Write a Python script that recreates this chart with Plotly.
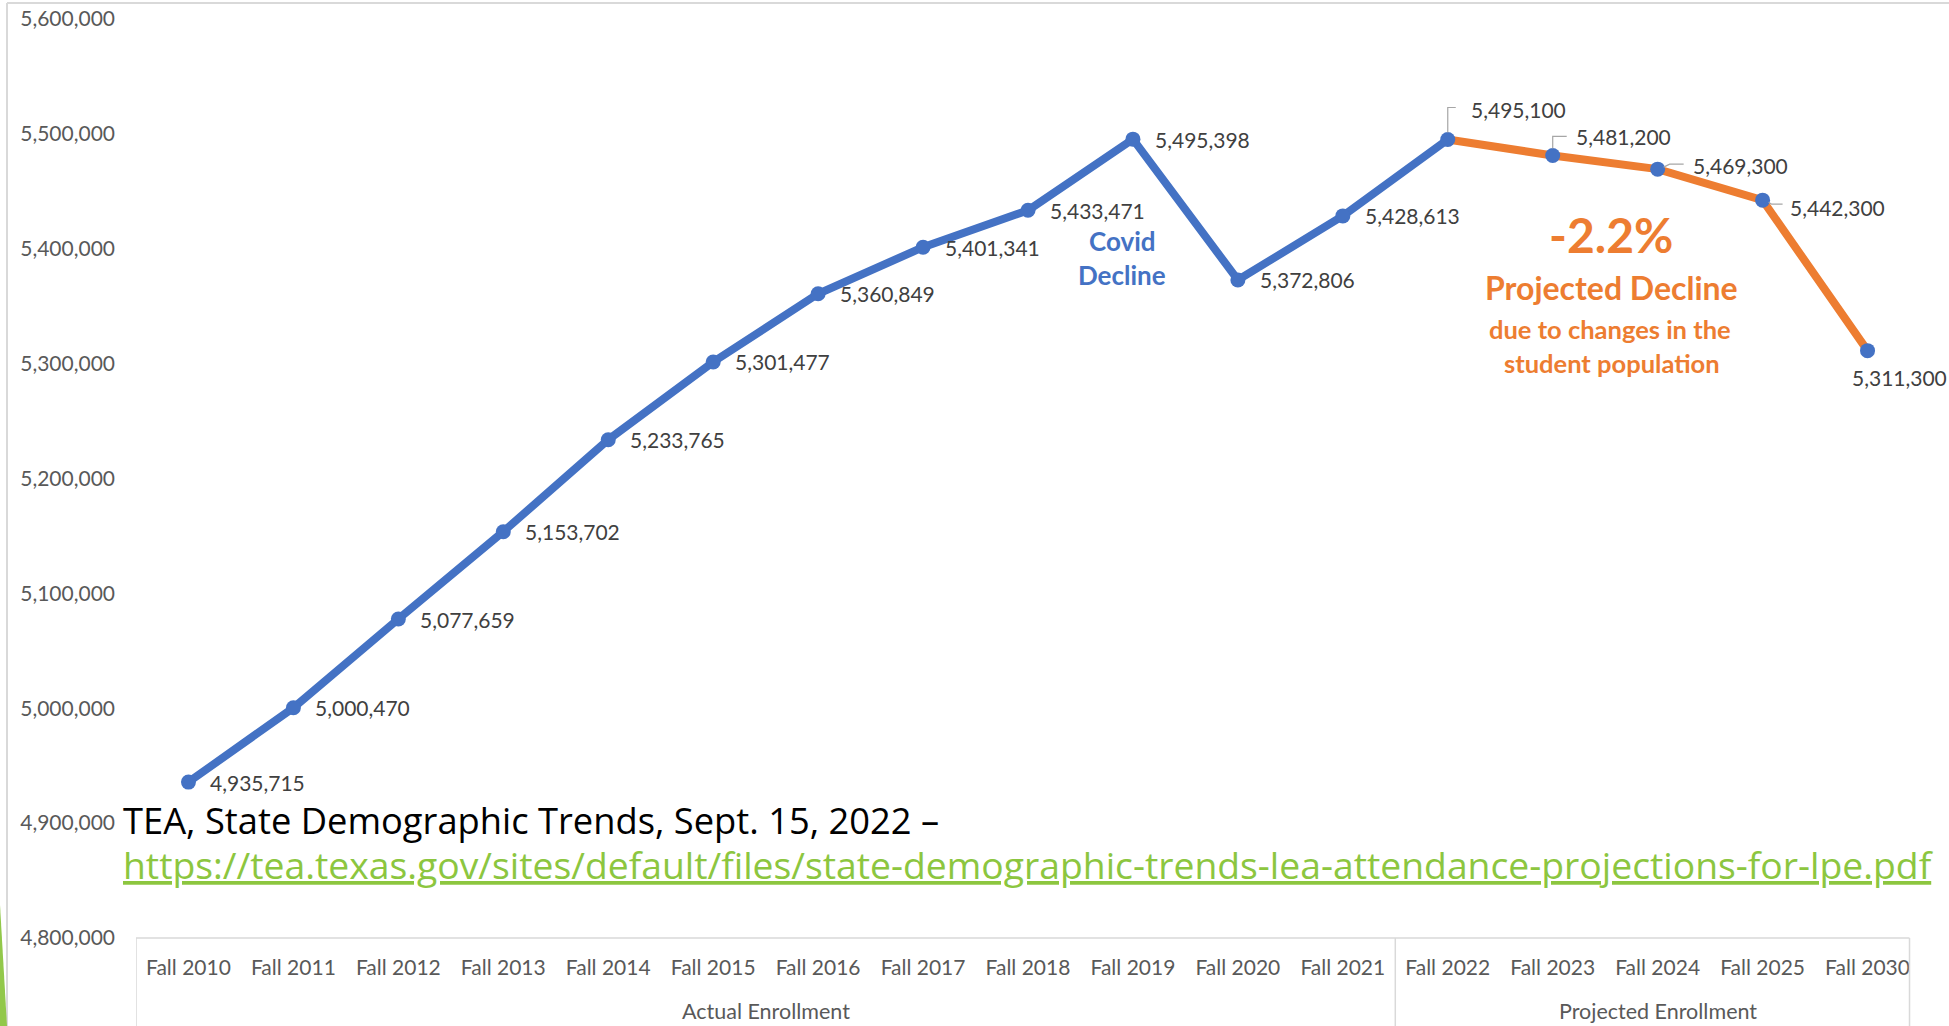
import plotly.graph_objects as go

# ---- data -------------------------------------------------------------
categories = [
    "Fall 2010", "Fall 2011", "Fall 2012", "Fall 2013", "Fall 2014", "Fall 2015",
    "Fall 2016", "Fall 2017", "Fall 2018", "Fall 2019", "Fall 2020", "Fall 2021",
    "Fall 2022", "Fall 2023", "Fall 2024", "Fall 2025", "Fall 2030",
]
actual_enrollment = [
    4935715, 5000470, 5077659, 5153702, 5233765, 5301477,
    5360849, 5401341, 5433471, 5495398, 5372806, 5428613,
]
projected_enrollment = [5495100, 5481200, 5469300, 5442300, 5311300]
group_labels = ["Actual Enrollment", "Projected Enrollment"]
y_tick_values = [4800000, 4900000, 5000000, 5100000, 5200000, 5300000, 5400000, 5500000, 5600000]

# ---- styling ----------------------------------------------------------
BLUE = "#4472C4"
ORANGE = "#ED7D31"
LABEL = "#404040"
AXIS_TEXT = "#595959"
FRAME = "#D9D9D9"
LINK = "#8CC63F"
LEADER = "#A6A6A6"
FONT = "Lato"
SOURCE_FONT = "Open Sans"

W, H = 1949, 1026
ML, MR, MT, MB = 136, 29, 19, 88

# projection label placement: (x offset to label's left edge, y offset to label centre, px, up = +)
proj_label_offsets = [(23, 30), (23, 19), (35, 4), (27, -7), (-16, -27)]
# elbow leader lines drawn in pixels relative to each point (None = no leader)
proj_leaders = ["M0,7 V32 H8", "M0,7 V19 H14", "M6,2 L12,5 H26", "M6,-2 L9,-4 H20", None]

n_actual = len(actual_enrollment)
values = actual_enrollment + projected_enrollment
xs = list(range(len(categories)))

fig = go.Figure()
fig.add_trace(go.Scatter(
    x=xs[:n_actual + 1], y=values[:n_actual + 1], mode="lines",
    line=dict(color=BLUE, width=8), hoverinfo="skip",
))
fig.add_trace(go.Scatter(
    x=xs[n_actual:], y=values[n_actual:], mode="lines",
    line=dict(color=ORANGE, width=8), hoverinfo="skip",
))
fig.add_trace(go.Scatter(
    x=xs, y=values, mode="markers",
    marker=dict(color=BLUE, size=15, line=dict(width=0)),
    customdata=categories, hovertemplate="%{customdata}: %{y:,}<extra></extra>",
))

annotations = []
shapes = []

# value labels for the actual enrollment points
for i, v in enumerate(actual_enrollment):
    annotations.append(dict(
        x=xs[i], y=v, text=f"{v:,}", showarrow=False, xanchor="left", yanchor="middle",
        xshift=20, font=dict(family=FONT, size=21, color=LABEL),
    ))

# value labels (with leader lines) for the projected points
for k, v in enumerate(projected_enrollment):
    i = n_actual + k
    dx, dy = proj_label_offsets[k]
    annotations.append(dict(
        x=xs[i], y=v, text=f"{v:,}", showarrow=False, xanchor="left", yanchor="middle",
        xshift=dx - 2, yshift=dy, font=dict(family=FONT, size=21, color=LABEL),
    ))
    if proj_leaders[k]:
        shapes.append(dict(
            type="path", xref="x", yref="y", xsizemode="pixel", ysizemode="pixel",
            xanchor=xs[i], yanchor=v, path=proj_leaders[k],
            line=dict(color=LEADER, width=1.2), layer="above",
        ))


def px_x(px):
    return (px - ML) / (W - ML - MR)


def px_y(py):
    return (H - MB - py) / (H - MT - MB)


def callout(text, cx, cy, size, color):
    return dict(xref="paper", yref="paper", x=px_x(cx), y=px_y(cy),
                xanchor="center", yanchor="middle", showarrow=False,
                text=text, font=dict(family=FONT, size=size, color=color))


annotations += [
    callout("<b>Covid</b>", 1122, 241, 26, BLUE),
    callout("<b>Decline</b>", 1122, 275, 26, BLUE),
    callout("<b>-2.2%</b>", 1611, 234, 48, ORANGE),
    callout("<b>Projected Decline</b>", 1611, 287, 32, ORANGE),
    callout("<b>due to changes in the</b>", 1610, 329, 25.5, ORANGE),
    callout("<b>student population</b>", 1612, 363, 25.5, ORANGE),
]

# source citation
annotations += [
    dict(xref="paper", yref="paper", x=px_x(121), y=px_y(820), xanchor="left", yanchor="middle",
         showarrow=False, text="TEA, State Demographic Trends, Sept. 15, 2022 –",
         font=dict(family=SOURCE_FONT, size=36.3, color="#000000")),
    dict(xref="paper", yref="paper", x=px_x(121), y=px_y(864), xanchor="left", yanchor="middle",
         showarrow=False,
         text="<span style='text-decoration:underline'>https://tea.texas.gov/sites/default/files/"
              "state-demographic-trends-lea-attendance-projections-for-lpe.pdf</span>",
         font=dict(family=SOURCE_FONT, size=37.3, color=LINK)),
]

# group labels of the two-level category axis
group_spans = [(0, n_actual - 1), (n_actual, len(categories) - 1)]
for label, (a, b) in zip(group_labels, group_spans):
    annotations.append(dict(
        x=(xs[a] + xs[b]) / 2, xref="x", y=px_y(1011), yref="paper", showarrow=False,
        text=label, xanchor="center", yanchor="middle",
        font=dict(family=FONT, size=21.5, color=AXIS_TEXT),
    ))

# category axis box: top rule, outer edges and group divider
box_left = xs[0] - 0.5
box_right = xs[-1] + 0.4
divider = xs[n_actual] - 0.5
shapes.append(dict(type="line", xref="x", yref="paper", x0=box_left, x1=box_right, y0=0, y1=0,
                   line=dict(color=FRAME, width=1.5)))
for xv in (box_left, divider, box_right):
    shapes.append(dict(type="line", xref="x", yref="paper", x0=xv, x1=xv, y0=0, y1=px_y(H + 2),
                       line=dict(color=FRAME, width=1.5)))

# outer frame (left and top edges) and the green corner accent
shapes.append(dict(type="line", xref="paper", yref="paper", x0=px_x(7), x1=px_x(7),
                   y0=px_y(3), y1=px_y(H + 2), line=dict(color=FRAME, width=2)))
shapes.append(dict(type="line", xref="paper", yref="paper", x0=px_x(7), x1=px_x(W + 2),
                   y0=px_y(3), y1=px_y(3), line=dict(color=FRAME, width=2)))
shapes.append(dict(
    type="path", xref="paper", yref="paper",
    path=f"M{px_x(0)},{px_y(905)} L{px_x(7)},{px_y(H)} L{px_x(0)},{px_y(H)} Z",
    fillcolor="#92C84A", line=dict(width=0),
))

fig.update_layout(
    width=W, height=H,
    margin=dict(l=ML, r=MR, t=MT, b=MB, pad=0, autoexpand=False),
    paper_bgcolor="white", plot_bgcolor="white",
    showlegend=False,
    font=dict(family=FONT, color=AXIS_TEXT),
    xaxis=dict(
        range=[xs[0] - 0.5, xs[-1] + 0.5], tickvals=xs, ticktext=categories,
        showgrid=False, zeroline=False, showline=False, ticks="", automargin=False,
        ticklabelstandoff=15, tickfont=dict(family=FONT, size=21, color=AXIS_TEXT),
        fixedrange=True,
    ),
    yaxis=dict(
        range=[y_tick_values[0], y_tick_values[-1]], tickvals=y_tick_values,
        tickformat=",", showgrid=False, zeroline=False, showline=False, ticks="",
        automargin=False,
        ticklabelstandoff=20, tickfont=dict(family=FONT, size=21, color=AXIS_TEXT),
        fixedrange=True,
    ),
    annotations=annotations,
    shapes=shapes,
)

fig.write_html("out.html")
